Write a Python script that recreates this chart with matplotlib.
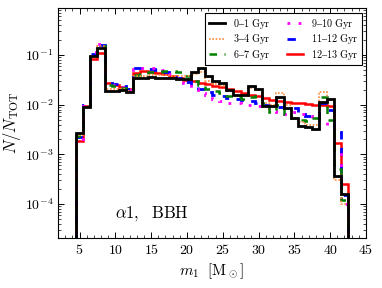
import numpy as np
import matplotlib
matplotlib.use("Agg")
from matplotlib import pyplot as plt
from matplotlib import ticker
from matplotlib.lines import Line2D

plt.rcParams["mathtext.fontset"] = "cm"
plt.rcParams["font.family"] = ["DejaVu Serif"]

# bin edges 4.5 .. 42.5, width 1 Msun
edges = np.arange(4.5, 43.0, 1.0)

# N/N_TOT per bin (bins centred on 5..42)
gyr_0_1 = [2.7e-3, 9.0e-3, 0.095, 0.14, 0.019, 0.019, 0.020, 0.018,
           0.035, 0.035, 0.036, 0.035, 0.034, 0.034, 0.033, 0.033,
           0.046, 0.056, 0.037, 0.030, 0.027, 0.020, 0.016, 0.016,
           0.024, 0.021, 0.0095, 0.0095, 0.0145, 0.0085, 0.0054, 0.0038,
           0.0036, 0.0033, 0.0115, 0.013, 3.7e-4, 1.6e-4]
gyr_3_4 = [2.5e-3, 9.0e-3, 0.090, 0.15, 0.021, 0.021, 0.021, 0.019,
           0.037, 0.038, 0.039, 0.040, 0.039, 0.038, 0.038, 0.038,
           0.042, 0.045, 0.030, 0.026, 0.024, 0.019, 0.016, 0.016,
           0.022, 0.020, 0.011, 0.010, 0.017, 0.010, 0.0055, 0.0045,
           0.0040, 0.0040, 0.018, 0.013, 3.0e-4, 1.0e-4]
gyr_6_7 = [2.3e-3, 9.5e-3, 0.100, 0.155, 0.025, 0.024, 0.022, 0.020,
           0.040, 0.041, 0.045, 0.046, 0.047, 0.047, 0.046, 0.038,
           0.030, 0.025, 0.021, 0.019, 0.017, 0.015, 0.014, 0.013,
           0.014, 0.015, 0.011, 0.007, 0.010, 0.0065, 0.0055, 0.0050,
           0.0048, 0.0055, 0.014, 0.005, 5.0e-4, 1.2e-4]
gyr_9_10 = [2.0e-3, 9.5e-3, 0.115, 0.17, 0.026, 0.025, 0.023, 0.020,
            0.052, 0.056, 0.056, 0.055, 0.050, 0.042, 0.034, 0.027,
            0.021, 0.017, 0.0155, 0.013, 0.012, 0.011, 0.011, 0.0105,
            0.010, 0.0095, 0.0085, 0.0075, 0.007, 0.0065, 0.007, 0.0065,
            0.006, 0.005, 0.0045, 0.0036, 1.0e-3, 1.0e-4]
gyr_11_12 = [2.2e-3, 0.010, 0.105, 0.16, 0.028, 0.026, 0.024, 0.021,
             0.054, 0.055, 0.053, 0.050, 0.045, 0.040, 0.034, 0.029,
             0.024, 0.021, 0.018, 0.016, 0.015, 0.0135, 0.013, 0.0125,
             0.012, 0.011, 0.010, 0.0095, 0.009, 0.0085, 0.0085, 0.0065,
             0.006, 0.0055, 0.011, 0.008, 2.8e-3, 1.5e-4]
gyr_12_13 = [1.9e-3, 9.5e-3, 0.083, 0.112, 0.027, 0.025, 0.023, 0.021,
             0.043, 0.047, 0.046, 0.044, 0.042, 0.038, 0.035, 0.032,
             0.030, 0.028, 0.026, 0.024, 0.023, 0.021, 0.019, 0.017,
             0.016, 0.015, 0.0135, 0.0125, 0.012, 0.0115, 0.011, 0.0107,
             0.0103, 0.010, 0.0097, 0.0095, 1.7e-3, 2.5e-4]

labels = ["0–1 Gyr", "3–4 Gyr", "6–7 Gyr", "9–10 Gyr", "11–12 Gyr", "12–13 Gyr"]

fig = plt.figure(figsize=(3.82, 2.88), dpi=100)
ax = fig.add_axes([0.152, 0.174, 0.806, 0.798])

# (values, colour, linestyle, linewidth, zorder) -- drawing order, black on top
series = [
    (gyr_12_13, "red", "-", 1.8, 2),
    (gyr_11_12, "blue", (0, (3, 3)), 2.0, 3),
    (gyr_9_10, "magenta", (0, (1, 3)), 2.0, 3),
    (gyr_6_7, "green", (0, (3, 3)), 1.8, 3),
    (gyr_3_4, "#ff8c3a", (0, (1, 1)), 1.2, 3),
    (gyr_0_1, "black", "-", 2.0, 4),
]
for vals, col, ls, lw, z in series:
    ax.stairs(vals, edges, baseline=1e-7, color=col, linestyle=ls,
              linewidth=lw, zorder=z)

order = ["black", "#ff8c3a", "green", "magenta", "blue", "red"]
styles = {c: (ls, lw) for _, c, ls, lw, _ in series}
leg_handles = [Line2D([], [], color=c, linestyle=styles[c][0], linewidth=styles[c][1])
               for c in order]
leg = ax.legend(leg_handles, [r"$\mathrm{%s}$" % l.replace(" ", r"\ ") for l in labels],
                loc="upper right", ncol=2, fontsize=7.3, frameon=True,
                fancybox=False, edgecolor="black", framealpha=1,
                handlelength=1.6, handletextpad=0.8, columnspacing=1.6,
                borderpad=0.35, labelspacing=0.15, borderaxespad=0,
                bbox_to_anchor=(0.986, 0.978))
leg.get_frame().set_linewidth(0.8)

ax.set_yscale("log")
ax.set_xlim(2, 45)
ax.set_ylim(2.1e-5, 0.88)

ax.xaxis.set_major_locator(ticker.MultipleLocator(5))
ax.xaxis.set_minor_locator(ticker.MultipleLocator(1))
ax.xaxis.set_major_formatter(ticker.FuncFormatter(lambda v, p: r"$\mathrm{%d}$" % int(round(v))))
ax.yaxis.set_major_locator(ticker.FixedLocator([1e-4, 1e-3, 1e-2, 1e-1]))
ax.yaxis.set_minor_locator(ticker.LogLocator(base=10, subs=np.arange(2, 10)))
ax.yaxis.set_minor_formatter(ticker.NullFormatter())
ax.yaxis.set_major_formatter(ticker.FuncFormatter(
    lambda v, p: r"$10^{%d}$" % int(round(np.log10(v)))))

ax.tick_params(which="both", direction="in", top=True, right=True, labelsize=10)
ax.tick_params(which="major", length=4, width=0.7)
ax.tick_params(which="minor", length=2, width=0.5)
for s in ax.spines.values():
    s.set_linewidth(0.8)

ax.set_xlabel(r"$m_1\ \ [\mathrm{M}_\odot]$", fontsize=11, labelpad=3)
ax.set_ylabel(r"$N/N_{\rm TOT}$", fontsize=12, labelpad=1)
ax.text(0.185, 0.09, r"$\alpha1,\ \ \mathrm{BBH}$", transform=ax.transAxes, fontsize=12)

fig.savefig("out.png", dpi=100)
